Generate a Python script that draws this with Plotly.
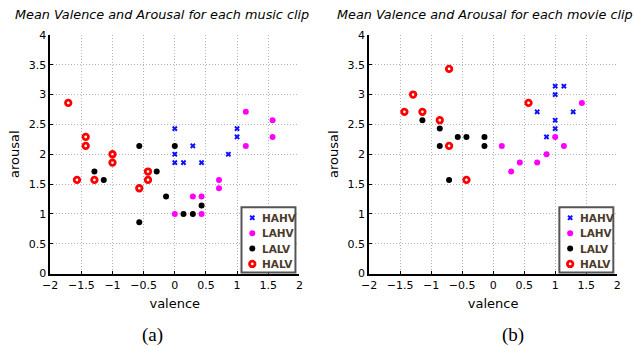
import plotly.graph_objects as go

# ---------------- data ----------------
# music clips (a)
music_hahv_v = [0.0, 1.0, 1.0, 0.29, 0.0, 0.86, 0.0, 0.14, 0.43]
music_hahv_a = [2.43, 2.43, 2.29, 2.14, 2.0, 2.0, 1.86, 1.86, 1.86]
music_lahv_v = [1.14, 1.57, 1.57, 1.14, 0.71, 0.71, 0.29, 0.43, 0.0, 0.43]
music_lahv_a = [2.71, 2.57, 2.29, 2.14, 1.57, 1.43, 1.29, 1.29, 1.0, 1.0]
music_lalv_v = [-0.57, 0.0, -1.29, -0.29, -1.14, -0.14, 0.43, 0.14, 0.29, -0.57]
music_lalv_a = [2.14, 2.14, 1.71, 1.71, 1.57, 1.29, 1.14, 1.0, 1.0, 0.86]
music_halv_v = [-1.71, -1.43, -1.43, -1.0, -1.0, -0.43, -1.57, -1.29, -0.43, -0.57]
music_halv_a = [2.86, 2.29, 2.14, 2.0, 1.86, 1.71, 1.57, 1.57, 1.57, 1.43]

# movie clips (b)
movie_hahv_v = [1.0, 1.14, 1.0, 0.71, 1.29, 1.0, 1.0, 0.86]
movie_hahv_a = [3.14, 3.14, 3.0, 2.71, 2.71, 2.57, 2.43, 2.29]
movie_lahv_v = [1.43, 1.0, 0.14, 1.14, 0.86, 0.43, 0.71, 0.29]
movie_lahv_a = [2.86, 2.29, 2.14, 2.14, 2.0, 1.86, 1.86, 1.71]
movie_lalv_v = [-1.14, -0.86, -0.57, -0.43, -0.14, -0.86, -0.14, -0.71]
movie_lalv_a = [2.57, 2.43, 2.29, 2.29, 2.29, 2.14, 2.14, 1.57]
movie_halv_v = [-0.71, -1.29, 0.57, -1.43, -1.14, -0.86, -0.71, -0.43]
movie_halv_a = [3.43, 3.0, 2.86, 2.71, 2.71, 2.57, 2.14, 1.57]

series_names = ["HAHV", "LAHV", "LALV", "HALV"]
x_ticks = [-2, -1.5, -1, -0.5, 0, 0.5, 1, 1.5, 2]
x_tick_labels = ["\u22122", "\u22121.5", "\u22121", "\u22120.5", "0", "0.5", "1", "1.5", "2"]
y_ticks = [0, 0.5, 1, 1.5, 2, 2.5, 3, 3.5, 4]
y_tick_labels = ["0", "0.5", "1", "1.5", "2", "2.5", "3", "3.5", "4"]
titles = ["Mean Valence and Arousal for each music clip",
          "Mean Valence and Arousal for each movie clip"]
captions = ["(a)", "(b)"]

# ---------------- styles / layout constants ----------------
styles = {
    "HAHV": dict(symbol="x", size=5, color="#1010ff", line=dict(width=0)),
    "LAHV": dict(symbol="circle", size=6, color="#ff00ff", line=dict(width=0)),
    "LALV": dict(symbol="circle", size=6, color="#000000", line=dict(width=0)),
    "HALV": dict(symbol="circle-open", size=5.5, color="#ff0000",
                 line=dict(width=2.8, color="#ff0000")),
}
W, H = 634, 347
LEG_BOXES = [(238, 209, 293, 277), (562, 209, 617, 277)]  # pixel boxes of the legends
LEG_ROW = 16

fig = go.Figure()
panels = [
    ([music_hahv_v, music_lahv_v, music_lalv_v, music_halv_v],
     [music_hahv_a, music_lahv_a, music_lalv_a, music_halv_a], "x", "y"),
    ([movie_hahv_v, movie_lahv_v, movie_lalv_v, movie_halv_v],
     [movie_hahv_a, movie_lahv_a, movie_lalv_a, movie_halv_a], "x2", "y2"),
]
for vs, ars, xa, ya in panels:
    for name, v, a in zip(series_names, vs, ars):
        fig.add_trace(go.Scatter(x=v, y=a, mode="markers", name=name,
                                 marker=styles[name], xaxis=xa, yaxis=ya,
                                 showlegend=False))

# legend keys drawn on a full-figure pixel overlay axis (x3/y3)
shapes = []
ann = []
for (x0, y0, x1, y1) in LEG_BOXES:
    shapes.append(dict(type="rect", xref="x3", yref="y3", x0=x0, y0=y0, x1=x1, y1=y1,
                       fillcolor="white", line=dict(color="#555555", width=2),
                       layer="below"))
    for i, name in enumerate(series_names):
        cy = y0 + 11 + LEG_ROW * i
        fig.add_trace(go.Scatter(x=[x0 + 11], y=[cy], mode="markers",
                                 marker=styles[name], xaxis="x3", yaxis="y3",
                                 showlegend=False, hoverinfo="skip"))
        ann.append(dict(text=name, x=x0 + 19, y=cy, xref="x3", yref="y3",
                        xanchor="left", yanchor="middle", showarrow=False,
                        font=dict(family="DejaVu Sans", size=10.5, color="#4d3b2a",
                                  weight="bold")))

ydom = [1 - 278 / H, 1 - 30 / H]
lab_font = dict(family="DejaVu Sans", size=13, color="black")
axis_common = dict(
    range=[-2, 2], showline=True, linecolor="black", linewidth=1.5,
    showgrid=True, gridcolor="#b4b4b4", griddash="1px,2px", gridwidth=1,
    zeroline=False, ticks="inside", ticklen=3, tickcolor="black",
    tickfont=dict(family="DejaVu Sans", size=11, color="black"),
    mirror=False,
)
fig.update_layout(
    width=W, height=H, margin=dict(l=0, r=0, t=0, b=0),
    plot_bgcolor="rgba(0,0,0,0)", paper_bgcolor="white",
    xaxis=dict(axis_common, domain=[43 / W, 297 / W], anchor="y",
               tickvals=x_ticks, ticktext=x_tick_labels,
               title=dict(text="valence", font=lab_font, standoff=8)),
    yaxis=dict(axis_common, domain=ydom, anchor="x", range=[0, 4],
               tickvals=y_ticks, ticktext=y_tick_labels,
               title=dict(text="arousal", font=lab_font, standoff=6)),
    xaxis2=dict(axis_common, domain=[368 / W, 621 / W], anchor="y2",
                tickvals=x_ticks, ticktext=x_tick_labels,
                title=dict(text="valence", font=lab_font, standoff=8)),
    yaxis2=dict(axis_common, domain=ydom, anchor="x2", range=[0, 4],
                tickvals=y_ticks, ticktext=y_tick_labels,
                title=dict(text="arousal", font=lab_font, standoff=6)),
    xaxis3=dict(domain=[0, 1], range=[0, W], anchor="y3", visible=False,
                fixedrange=True),
    yaxis3=dict(domain=[0, 1], range=[H, 0], anchor="x3", visible=False,
                fixedrange=True),
    showlegend=False,
)

for cx, t in zip([157, 486], titles):
    ann.append(dict(text=t, x=cx / W, y=1 - 9 / H, xref="paper", yref="paper",
                    xanchor="center", yanchor="middle", showarrow=False,
                    font=dict(family="DejaVu Sans", size=12.8, color="black", style="italic")))
for cx, t in zip([147, 515], captions):
    ann.append(dict(text=t, x=cx / W, y=1 - 342 / H, xref="paper", yref="paper",
                    xanchor="center", yanchor="middle", showarrow=False,
                    font=dict(family="Liberation Serif", size=19, color="black")))
fig.update_layout(annotations=ann, shapes=shapes)

fig.write_html("out.html", config={"displayModeBar": False},
               post_script="document.body.style.margin='0';document.body.style.overflow='hidden';")
